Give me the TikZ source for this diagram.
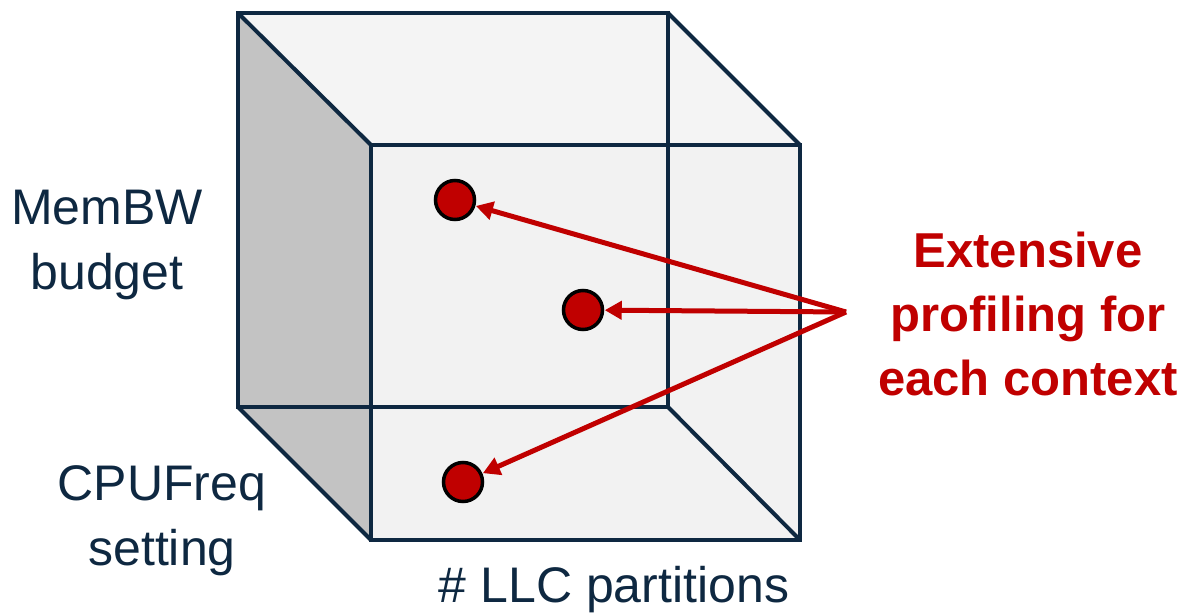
\documentclass[tikz,border=0pt]{standalone}
\usepackage{fontspec}
\setmainfont{Liberation Sans}
\usetikzlibrary{arrows.meta}
\definecolor{navy}{HTML}{0E2841}
\definecolor{darkred}{HTML}{C00000}
\definecolor{sidegray}{HTML}{C3C3C3}
\definecolor{topgray}{HTML}{F4F4F4}
\definecolor{frontgray}{HTML}{F2F2F2}
\tikzset{
  edge/.style={draw=navy, line width=4bp, line join=miter},
  dot/.style={circle, draw=black, line width=3.5bp, fill=darkred, minimum size=39bp, inner sep=0pt},
  arr/.style={draw=darkred, line width=5bp, -{Triangle[length=17bp,width=18bp]}, shorten >=0.5bp},
  lbl/.style={text=navy, align=center, font=\fontsize{50bp}{65bp}\selectfont, inner sep=0pt},
  redlbl/.style={text=darkred, align=center, font=\bfseries\fontsize{49bp}{64bp}\selectfont, inner sep=0pt}
}
\begin{document}
\begin{tikzpicture}[x=1bp,y=-1bp]
\useasboundingbox (0,0) rectangle (1191,613);
% corners
\coordinate (b1) at (238,13);
\coordinate (b2) at (668,13);
\coordinate (b3) at (668,407);
\coordinate (b4) at (238,407);
\coordinate (f1) at (371,145);
\coordinate (f2) at (800,145);
\coordinate (f3) at (800,540);
\coordinate (f4) at (371,540);
% fills
\fill[frontgray] (b1) -- (b2) -- (f2) -- (f3) -- (f4) -- (b4) -- cycle;
\fill[topgray] (b1) -- (b2) -- (f2) -- (f1) -- cycle;
\fill[sidegray] (b1) -- (f1) -- (f4) -- (b4) -- cycle;
% edges
\draw[edge] (b1) -- (b2) -- (b3) -- (b4) -- cycle;
\draw[edge] (f1) -- (f2) -- (f3) -- (f4) -- cycle;
\draw[edge] (b1) -- (f1);
\draw[edge] (b2) -- (f2);
\draw[edge] (b3) -- (f3);
\draw[edge] (b4) -- (f4);
% dots
\node[dot] (d1) at (455,200) {};
\node[dot] (d2) at (583,310) {};
\node[dot] (d3) at (463,482) {};
\coordinate (apex) at (846,312);
\draw[arr] (apex) -- (d1);
\draw[arr] (apex) -- (d2);
\draw[arr] (apex) -- (d3);
% labels
\node[lbl] (mem) at (107,245) {MemBW\\budget};
\node[lbl] (cpu) at (162,521) {CPUFreq\\setting};
\node[lbl] (llc) at (614,590) {\# LLC partitions};
\node[redlbl] (ext) at (1028,314) {Extensive\\profiling for\\each context};
\end{tikzpicture}
\end{document}
